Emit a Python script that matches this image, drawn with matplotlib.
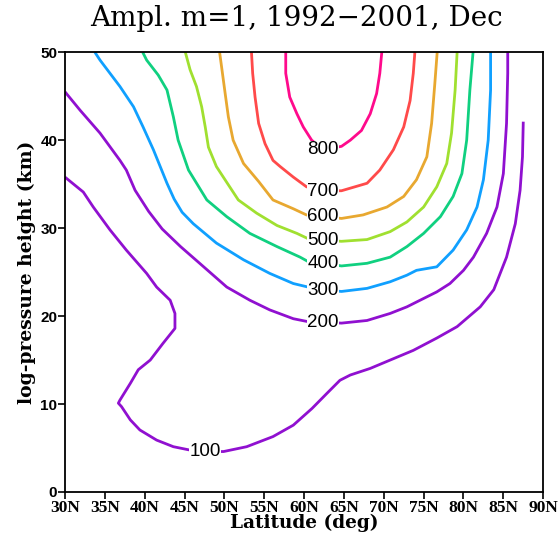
import matplotlib
matplotlib.use("Agg")
import matplotlib.pyplot as plt

# contour levels of the m=1 amplitude, traced as (latitude, height) paths
levels = [100, 200, 300, 400, 500, 600, 700, 800]
colors = ["#9010d0", "#9010d0", "#10a0ff", "#10d080", "#a0e030",
          "#e8a830", "#ff4a4a", "#ff0a8c"]

lat_100 = [30.0, 32.3, 33.55, 35.65, 37.7, 40.25, 41.5, 43.2, 43.8, 43.8, 42.3,
           40.7, 39.2, 38.2, 36.9, 36.7, 37.1, 38.2, 39.4, 41.5, 43.6, 45.5,
           47.6, 49.9, 52.8, 56.1, 58.65, 61.0, 62.85, 64.5, 65.8, 68.3, 70.8,
           73.7, 76.65, 79.2, 82.1, 83.8, 85.4, 86.5, 87.1, 87.4, 87.5]
hgt_100 = [35.8, 34.1, 32.4, 29.8, 27.5, 24.85, 23.3, 21.8, 20.3, 18.6, 16.9,
           15.0, 13.9, 12.35, 10.45, 10.1, 9.7, 8.2, 7.05, 5.9, 5.15, 4.8,
           4.6, 4.6, 5.15, 6.3, 7.6, 9.5, 11.2, 12.7, 13.3, 14.05, 15.0,
           16.1, 17.5, 18.8, 21.05, 23.0, 26.7, 30.5, 34.3, 38.1, 42.1]

lat_200 = [30.0, 31.9, 34.4, 36.9, 37.7, 38.8, 40.5, 42.2, 44.5, 46.9,
           50.3, 53.2, 55.7, 58.65, 60.3, 62.4, 64.7, 67.9, 70.8, 72.9, 74.55,
           76.65, 78.3, 80.0, 81.25, 82.9, 84.2, 85.0, 85.4, 85.55, 85.55]
hgt_200 = [45.5, 43.4, 40.8, 37.7, 36.6, 34.3, 31.9, 29.9, 27.9, 26.0,
           23.3, 21.8, 20.7, 19.7, 19.4, 19.3, 19.2, 19.5, 20.3, 21.05, 21.8,
           22.75, 23.7, 25.2, 26.7, 29.4, 32.4, 36.2, 41.9, 47.6, 50.0]

lat_300 = [33.75, 34.4, 36.9, 38.6, 39.8, 41.1, 42.8, 43.7, 44.7, 46.1, 49.0,
           52.4, 55.7, 58.65, 60.5, 62.4, 64.7, 67.9, 70.8, 72.9, 74.1, 76.65,
           78.7, 80.4, 81.7, 82.5, 83.1, 83.4, 83.4]
hgt_300 = [50.0, 49.1, 46.1, 43.8, 41.5, 38.9, 35.1, 33.3, 31.8, 30.5, 28.3,
           26.4, 24.85, 23.7, 23.3, 22.95, 22.8, 23.15, 23.9, 24.65, 25.2, 25.6,
           27.5, 29.8, 32.4, 35.5, 40.0, 45.7, 50.0]

lat_400 = [39.75, 40.25, 41.7, 42.8, 43.6, 44.2, 45.5, 47.8, 50.3, 53.2, 56.6,
           59.5, 60.5, 62.4, 64.7, 67.9, 70.8, 72.9, 75.0, 77.1, 78.7,
           79.8, 80.4, 80.8, 81.2]
hgt_400 = [50.0, 49.1, 47.4, 45.7, 42.65, 40.0, 36.6, 33.2, 31.3, 29.4, 27.9,
           26.7, 26.2, 26.0, 25.7, 26.0, 26.7, 27.9, 29.4, 31.3, 33.6,
           36.2, 40.0, 45.7, 50.0]

lat_500 = [45.1, 45.7, 46.5, 47.15, 47.6, 48.0, 49.0, 50.3, 51.75, 54.05, 56.6,
           59.1, 60.5, 62.4, 64.7, 67.9, 70.8, 72.9, 75.0, 76.65, 77.9, 78.5,
           78.95, 79.2]
hgt_500 = [50.0, 48.0, 46.1, 43.8, 41.5, 39.2, 37.0, 35.2, 33.2, 31.7, 30.3,
           29.4, 28.8, 28.6, 28.5, 28.7, 29.6, 30.7, 32.4, 34.7, 37.35, 40.8,
           45.7, 50.0]

lat_600 = [49.4, 49.7, 50.1, 50.5, 51.1, 52.4, 54.3, 56.1, 58.65, 60.3, 62.4,
           64.7, 67.4, 70.4, 72.5, 74.1, 75.4, 76.0, 76.4, 76.7]
hgt_600 = [50.0, 48.0, 45.3, 42.65, 40.0, 37.35, 35.3, 33.2, 32.2, 31.5, 31.3,
           31.1, 31.5, 32.4, 33.6, 35.5, 38.1, 41.9, 46.4, 50.0]

lat_700 = [53.4, 53.55, 53.85, 54.3, 55.1, 56.1, 57.0, 58.65, 60.3, 62.4, 64.7,
           67.9, 69.5, 71.2, 72.5, 73.3, 73.7, 73.9]
hgt_700 = [50.0, 47.6, 44.9, 41.9, 39.6, 37.7, 37.0, 35.8, 34.7, 34.2, 34.25,
           35.1, 36.6, 38.9, 41.5, 44.5, 47.6, 50.0]

lat_800 = [57.7, 57.7, 58.2, 59.1, 59.9, 60.95, 62.4, 64.7, 65.8, 67.2, 68.3,
           69.1, 69.5, 69.75]
hgt_800 = [50.0, 47.6, 44.9, 43.0, 41.5, 40.0, 38.9, 39.3, 40.0, 41.1, 43.0,
           45.3, 47.6, 50.0]

# where the level value is written on each line
label_lat = [47.6, 62.4, 62.4, 62.4, 62.4, 62.4, 62.4, 62.4]
label_hgt = [4.6, 19.3, 22.95, 26.0, 28.6, 31.3, 34.2, 38.9]

lats = [lat_100, lat_200, lat_300, lat_400, lat_500, lat_600, lat_700, lat_800]
hgts = [hgt_100, hgt_200, hgt_300, hgt_400, hgt_500, hgt_600, hgt_700, hgt_800]

xticks = list(range(30, 91, 5))
xticklabels = ["%dN" % v for v in xticks]
yticks = [0, 10, 20, 30, 40, 50]

fig = plt.figure(figsize=(5.6, 5.37), dpi=100)
ax = fig.add_axes([0.116, 0.0838, 0.854, 0.819])

for lev, col, x, y, lx, ly in zip(levels, colors, lats, hgts, label_lat, label_hgt):
    ax.plot(x, y, color=col, lw=2.0, solid_capstyle="butt", zorder=2)
    ax.text(lx, ly, str(lev), ha="center", va="center", fontsize=13.5,
            family="Liberation Sans", zorder=3,
            bbox=dict(facecolor="white", edgecolor="none", pad=0.2))

ax.set_xlim(30, 90)
ax.set_ylim(0, 50)
ax.set_xticks(xticks)
ax.set_xticklabels(xticklabels, family="Liberation Serif", fontweight="bold", fontsize=12.5)
ax.set_yticks(yticks)
ax.set_yticklabels([str(v) for v in yticks], family="Liberation Sans",
                   fontweight="bold", fontsize=11)
ax.tick_params(direction="out", length=5, width=1.2, pad=0.5)
for sp in ax.spines.values():
    sp.set_linewidth(1.3)

ax.set_xlabel("Latitude (deg)", family="DejaVu Serif", fontweight="bold",
              fontsize=13.3, labelpad=-1)
ax.set_ylabel("log-pressure height (km)", family="DejaVu Serif", fontweight="bold",
              fontsize=13.5, labelpad=3)
fig.text(0.53, 0.965, "Ampl. m=1, 1992\u22122001, Dec", ha="center", va="center",
         family="DejaVu Serif", fontsize=20)

fig.savefig("out.png", dpi=100)
